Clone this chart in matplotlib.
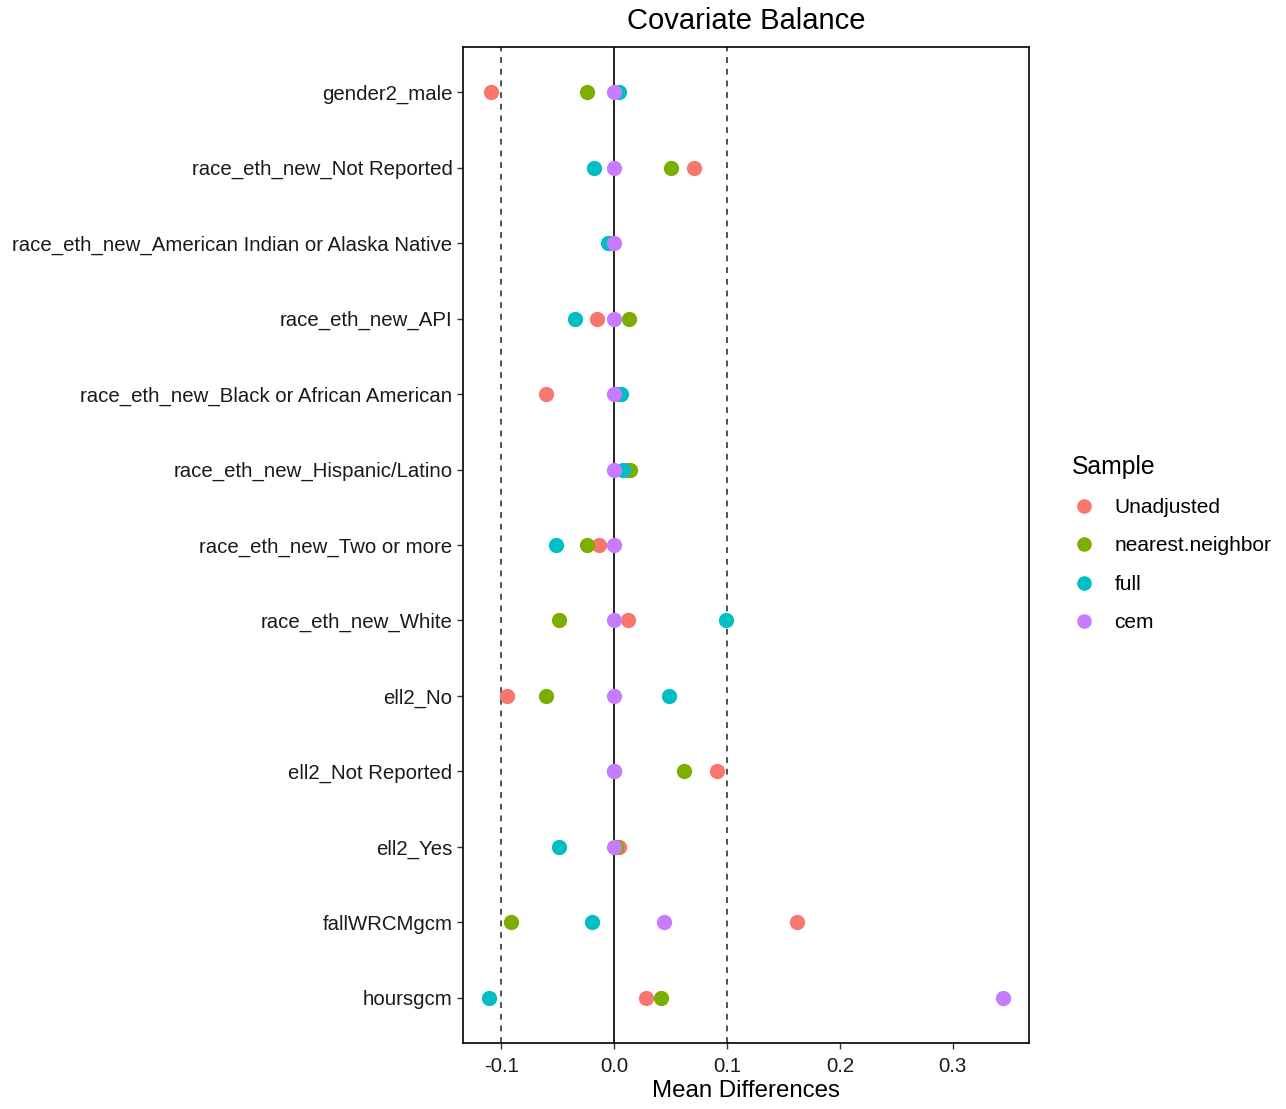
import matplotlib
matplotlib.use("Agg")
import matplotlib.pyplot as plt
from matplotlib.lines import Line2D

plt.rcParams['font.family'] = ['Liberation Sans', 'DejaVu Sans']

covariates = [
    "gender2_male",
    "race_eth_new_Not Reported",
    "race_eth_new_American Indian or Alaska Native",
    "race_eth_new_API",
    "race_eth_new_Black or African American",
    "race_eth_new_Hispanic/Latino",
    "race_eth_new_Two or more",
    "race_eth_new_White",
    "ell2_No",
    "ell2_Not Reported",
    "ell2_Yes",
    "fallWRCMgcm",
    "hoursgcm",
]

samples = ["Unadjusted", "nearest.neighbor", "full", "cem"]
colors = ["#F8766D", "#7CAE00", "#00BFC4", "#C77CFF"]

unadjusted = [-0.109, 0.071, -0.003, -0.015, -0.060, 0.012, -0.013, 0.012, -0.0945, 0.091, 0.004, 0.162, 0.028]
nearest_neighbor = [-0.024, 0.050, -0.002, 0.0136, 0.003, 0.014, -0.024, -0.0486, -0.060, 0.062, 0.002, -0.0916, 0.042]
full = [0.0047, -0.018, -0.005, -0.035, 0.0065, 0.0083, -0.0516, 0.0993, 0.049, 0.0, -0.049, -0.0194, -0.111]
cem = [0.0, 0.0, 0.0, 0.0, 0.0, 0.0, 0.0, 0.0, 0.0, 0.0, 0.0, 0.044, 0.3447]

series = [unadjusted, nearest_neighbor, full, cem]

W, H = 1286, 1109
fig = plt.figure(figsize=(W / 100, H / 100), dpi=100)
ax = fig.add_axes([463 / W, 1 - 1043 / H, (1029 - 463) / W, (1043 - 47) / H])

ypos = list(range(len(covariates)))

ax.axvline(0, color="black", lw=1.2, zorder=1)
for v in (-0.1, 0.1):
    ax.axvline(v, color="#333333", lw=1.2, ls=(0, (3.5, 3.5)), zorder=1)

handles = []
for name, vals, c in zip(samples, series, colors):
    ax.plot(vals, ypos, ls="none", marker="o", ms=11, color=c,
            markeredgewidth=0, zorder=3)
    handles.append(Line2D([], [], ls="none", marker="o", ms=10.5, color=c,
                          markeredgewidth=0, label=name))

allv = [v for s in series for v in s]
lo, hi = min(allv), max(allv)
pad = 0.05 * (hi - lo)
ax.set_xlim(lo - pad, hi + pad)
ax.set_ylim(len(covariates) - 1 + 0.6, -0.6)

ax.set_yticks(ypos)
ax.set_yticklabels(covariates)
ax.set_xticks([-0.1, 0.0, 0.1, 0.2, 0.3])
ax.set_xticklabels(["-0.1", "0.0", "0.1", "0.2", "0.3"])
ax.tick_params(axis="both", labelsize=14.7, colors="#333333", labelcolor="#1a1a1a",
               length=4, width=1.0)
ax.tick_params(axis="x", pad=6)
for sp in ax.spines.values():
    sp.set_color("black")
    sp.set_linewidth(1.2)

ax.set_xlabel("Mean Differences", fontsize=17.3, color="black", labelpad=3)
ax.set_title("Covariate Balance", fontsize=21, color="black", pad=13)

leg = fig.legend(handles=handles, title="Sample", loc="upper left",
                 bbox_to_anchor=(1053 / W, 1 - 436 / H), frameon=False,
                 fontsize=15, title_fontsize=17.8, handletextpad=0.85,
                 labelspacing=0.93, handlelength=1.2)
leg._legend_box.align = "left"

fig.savefig("out.png", dpi=100)
